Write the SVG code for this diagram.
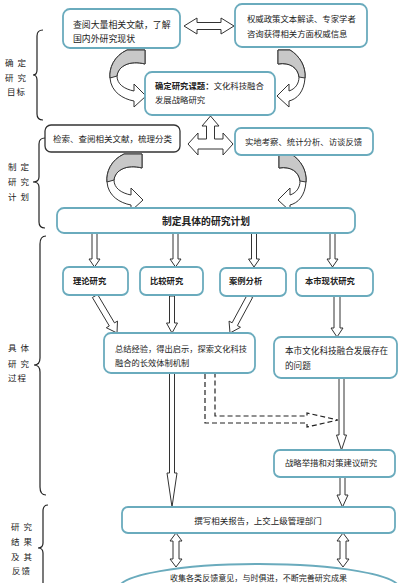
<svg xmlns="http://www.w3.org/2000/svg" xmlns:xlink="http://www.w3.org/1999/xlink" width="401" height="583" viewBox="0 0 401 583">
<style>
.box{fill:#fff;stroke:#6aabbd;stroke-width:1.8}
.boxk{fill:#fff;stroke:#333;stroke-width:1.3}
.arr{fill:#fff;stroke:#333;stroke-width:1}
.gray{fill:#c8c8c8;stroke:#333;stroke-width:1}
.dash{fill:none;stroke:#222;stroke-width:1.2;stroke-dasharray:5,3}
.br{fill:none;stroke:#222;stroke-width:1.2}
text{font-family:"Noto Sans CJK SC","Noto Sans",sans-serif;fill:#222}
.lb{font-size:8.5px;letter-spacing:1px}
.bd{font-weight:bold}
</style>
<defs>
<g id="curlL">
<path class="arr" d="M145,50 L127,50 C114,56 109,68 110,78 C111,92 123,99 134,101 L134,107 L146,96 L134,84 L134,91 C124,89 117,84 117,76 C118,66 130,60 145,64 Z"/>
<path class="gray" d="M145,50 L127,50 C114,56 109,68 110,78 L117,76 C118,66 130,60 145,64 Z"/>
</g>
<g id="curlR">
<path class="arr" d="M278,50 L290,50 C300,56 306,67 305,78 C304,92 297,99 289,101 L289,107 L277,96 L289,84 L289,91 C295,89 299,84 299,77 C298,68 290,62 278,64 Z"/>
<path class="gray" d="M278,50 L290,50 C300,56 306,67 305,78 L299,77 C298,68 290,62 278,64 Z"/>
</g>
</defs>
<rect width="401" height="583" fill="#fff"/>

<g id="labels">
<path class="br" d="M43,30 Q37,30 37,36 L37,70 Q37,75 33,75 Q37,75 37,80 L37,114 Q37,120 43,120"/>
<text class="lb" x="5" y="65.5">确 定</text>
<text class="lb" x="5" y="80.5">研 究</text>
<text class="lb" x="7" y="95">目标</text>
<path class="br" d="M45,138 Q39,138 39,144 L39,177 Q39,182 33,182 Q39,182 39,187 L39,222 Q39,228 45,228"/>
<text class="lb" x="8" y="170">制 定</text>
<text class="lb" x="8" y="185">研 究</text>
<text class="lb" x="8" y="200">计 划</text>
<path class="br" d="M46,236 Q40,236 40,244 L40,358 Q40,365 34,365 Q40,365 40,372 L40,487 Q40,495 46,495"/>
<text class="lb" x="8" y="351">具 体</text>
<text class="lb" x="8" y="366.5">研 究</text>
<text class="lb" x="8" y="381">过程</text>
<path class="br" d="M48,505 Q43,505 43,511 L43,543 Q43,548 38,548 Q43,548 43,553 L43,590"/>
<text class="lb" x="11" y="530">研 究</text>
<text class="lb" x="11" y="544.5">结 果</text>
<text class="lb" x="11" y="560">及 其</text>
<text class="lb" x="12" y="574">反馈</text>
</g>

<g id="connectors">
<polygon class="arr" points="184,26 197,18 197,22.5 221,22.5 221,18 234,26 221,34 221,29.5 197,29.5 197,34"/>
<use xlink:href="#curlL"/>
<use xlink:href="#curlR"/>
<polygon class="arr" points="210.5,116 219,126 214.5,126 214.5,139 223,139 223,133 233,144 223,155 223,149 198,149 198,155 188,144 198,133 198,139 206.5,139 206.5,126 202,126"/>
<use xlink:href="#curlL" transform="translate(-3,104)"/>
<use xlink:href="#curlR" transform="translate(1,104)"/>
<polygon class="arr" points="92,233 92,259 89,259 94.5,267 100,259 97,259 97,233"/>
<polygon class="arr" points="173,233 173,259 170,259 175.5,267 181,259 178,259 178,233"/>
<polygon class="arr" points="251.5,233 251.5,259 248.5,259 254,267 259.5,259 256.5,259 256.5,233"/>
<polygon class="arr" points="330,233 330,259 327,259 332.5,267 338,259 335,259 335,233"/>
<polygon class="arr" points="92.42,297.53 109.31,325.94 106.31,327.73 117,333 117.47,321.09 114.47,322.88 97.58,294.47"/>
<polygon class="arr" points="169.5,296 169.5,323 166.5,323 172,333 177.5,323 174.5,323 174.5,296"/>
<polygon class="arr" points="247.36,294.57 232.12,322.78 229.04,321.11 230,333 240.47,327.29 237.39,325.63 252.64,297.43"/>
<polygon class="arr" points="334,296 334,328 331,328 337,337 343,328 340,328 340,296"/>
<polygon class="arr" points="169.5,373 169.5,473 167,473 172,507 177,473 174.5,473 174.5,373"/>
<path class="dash" d="M205,374 L205,423 L307,423 L307,427 L338,420 L307,413 L307,416 L215,416 L215,374"/>
<polygon class="arr" points="339,378 339,435 336.5,435 341.5,450 346.5,435 344,435 344,378"/>
<polygon class="arr" points="340,477 340,495 337,495 342.5,507 348,495 345,495 345,477"/>
<polygon class="arr" points="176,533 182,541 179,541 179,559 182,559 176,567 170,559 173,559 173,541 170,541"/>
<polygon class="arr" points="343,533 349,541 346,541 346,559 349,559 343,567 337,559 340,559 340,541 337,541"/>
</g>

<g id="nodeA">
<rect class="box" x="63" y="9" width="117" height="39" rx="7"/>
<text x="73" y="27.5" font-size="8.9">查阅大量相关文献，了解</text>
<text x="73" y="41.5" font-size="8.9">国内外研究现状</text>
</g>
<g id="nodeB">
<rect class="box" x="235" y="4" width="132" height="43" rx="7"/>
<text x="247" y="21.5" font-size="8.4">权威政策文本解读、专家学者</text>
<text x="247" y="36.5" font-size="8.4">咨询获得相关方面权威信息</text>
</g>
<g id="nodeC">
<rect class="box" x="145" y="72" width="130" height="43" rx="7"/>
<text x="155" y="88.5" font-size="8.4"><tspan class="bd">确定研究课题：</tspan>文化科技融合</text>
<text x="155" y="102.5" font-size="8.4">发展战略研究</text>
</g>
<g id="nodeD">
<rect class="boxk" x="45" y="125" width="135" height="27" rx="6"/>
<text x="53" y="141.5" font-size="8.5">检索、查阅相关文献，梳理分类</text>
</g>
<g id="nodeE">
<rect class="box" x="235" y="128" width="138" height="27" rx="6"/>
<text x="245" y="144.5" font-size="8.4">实地考察、统计分析、访谈反馈</text>
</g>
<g id="nodeF">
<rect class="box" x="57" y="208" width="298" height="25" rx="7"/>
<text x="206" y="224.5" font-size="9.8" text-anchor="middle" class="bd">制定具体的研究计划</text>
</g>
<g id="nodeT1">
<rect class="box" x="63" y="267" width="65" height="28" rx="6"/>
<text x="73" y="283.5" font-size="8.3" class="bd">理论研究</text>
</g>
<g id="nodeT2">
<rect class="box" x="140" y="267" width="63" height="28" rx="6"/>
<text x="150" y="283.5" font-size="8.3" class="bd">比较研究</text>
</g>
<g id="nodeT3">
<rect class="box" x="220" y="268" width="66" height="28" rx="6"/>
<text x="229" y="283.5" font-size="8.3" class="bd">案例分析</text>
</g>
<g id="nodeT4">
<rect class="box" x="296" y="268" width="77" height="28" rx="6"/>
<text x="305" y="283.5" font-size="8.3" class="bd">本市现状研究</text>
</g>
<g id="nodeG">
<rect class="box" x="104" y="333" width="151" height="40" rx="7"/>
<text x="115" y="351.5" font-size="8.25">总结经验，得出启示，探索文化科技</text>
<text x="115" y="365.5" font-size="8.25">融合的长效体制机制</text>
</g>
<g id="nodeH">
<rect class="box" x="274" y="337" width="123" height="41" rx="7"/>
<text x="285" y="353.5" font-size="8.6">本市文化科技融合发展存在</text>
<text x="285" y="368.5" font-size="8.6">的问题</text>
</g>
<g id="nodeI">
<rect class="box" x="274" y="450" width="121" height="27" rx="6"/>
<text x="285" y="465.5" font-size="8.4">战略举措和对策建议研究</text>
</g>
<g id="nodeJ">
<rect class="box" x="122" y="507" width="273" height="26" rx="6"/>
<text x="258" y="523.5" font-size="8.5" text-anchor="middle">撰写相关报告，上交上级管理部门</text>
</g>
<g id="nodeK">
<ellipse class="box" cx="259" cy="588" rx="140" ry="24"/>
<text x="258.5" y="581" font-size="8.05" text-anchor="middle">收集各类反馈意见，与时俱进，不断完善研究成果</text>
</g>
</svg>
